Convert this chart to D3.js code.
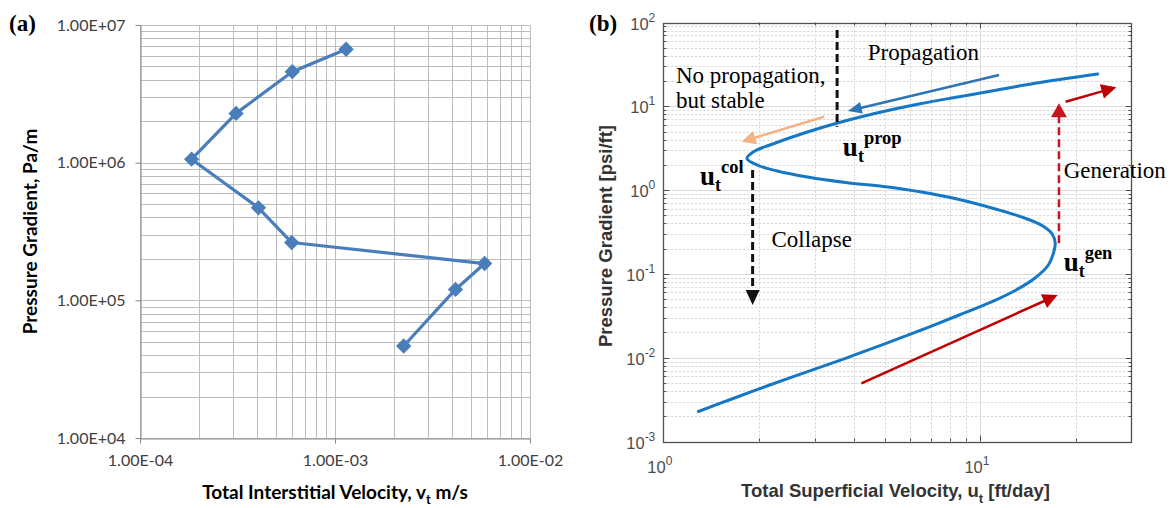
<!DOCTYPE html>
<html><head><meta charset="utf-8">
<script src="https://cdn.jsdelivr.net/npm/d3@7"></script>
<style>body{margin:0;background:#fff}svg{display:block}</style>
</head><body>
<svg id="c" width="1175" height="508"></svg>
<script>
// ---------- Panel (a) data ----------
const velocityA = [1.14e-3, 6.04e-4, 3.11e-4, 1.84e-4, 4.05e-4, 6.0e-4, 5.85e-3, 4.15e-3, 2.25e-3];
const gradientA = [6.66e6, 4.58e6, 2.28e6, 1.06e6, 4.7e5, 2.63e5, 1.85e5, 1.2e5, 4.66e4];
const xTickValsA = [1e-4, 1e-3, 1e-2];
const xTickLabelsA = ["1.00E-04", "1.00E-03", "1.00E-02"];
const yTickValsA = [1e4, 1e5, 1e6, 1e7];
const yTickLabelsA = ["1.00E+04", "1.00E+05", "1.00E+06", "1.00E+07"];

// ---------- Panel (b) data ----------
const curveU = [1.29, 1.644, 2.165, 2.85, 3.756, 4.944, 6.515, 8.577, 11.3, 12.96, 14.87, 16.38, 17.07, 17.21,
  16.84, 15.83, 14.07, 11.3, 8.577, 6.515, 4.944, 3.756, 2.85, 2.287, 1.994, 1.835,
  1.931, 2.169, 2.846, 3.737, 4.944, 6.515, 8.577, 11.3, 14.87, 23.42];
const curveG = [0.00228, 0.003216, 0.004724, 0.006808, 0.009836, 0.01445, 0.02141, 0.03232, 0.04974, 0.06425, 0.08938, 0.1277, 0.1876, 0.2338,
  0.2994, 0.3679, 0.4519, 0.5868, 0.7723, 0.949, 1.104, 1.232, 1.433, 1.69, 1.966, 2.383,
  2.888, 3.452, 4.935, 6.676, 8.67, 10.8, 13.02, 15.65, 18.81, 24.29];
const xTickValsB = [1, 10];
const xTickExpB = ["0", "1"];
const yTickValsB = [1e-3, 1e-2, 1e-1, 1, 10, 100];
const yTickExpB = ["-3", "-2", "-1", "0", "1", "2"];

// annotation arrows (data coordinates: from -> to)
const arrowsB = [
  {kind: "blackDash", u0: 3.533, g0: 81.4, u1: 3.533, g1: 5.71},
  {kind: "blackDashArrow", u0: 1.913, g0: 1.737, u1: 1.913, g1: 0.0426},
  {kind: "redDashArrow", u0: 17.69, g0: 0.232, u1: 17.69, g1: 10.86},
  {kind: "blue", u0: 11.45, g0: 23.63, u1: 3.818, g1: 8.788},
  {kind: "orange", u0: 3.216, g0: 7.514, u1: 1.766, g1: 3.781},
  {kind: "red", u0: 18.57, g0: 11.35, u1: 26.83, g1: 16.85},
  {kind: "red", u0: 4.215, g0: 0.00495, u1: 17.52, g1: 0.056}
];
const textsB = [
  {text: "Propagation", u: 4.415, g: 35.68},
  {text: "No propagation,", u: 1.096, g: 18.81},
  {text: "but stable", u: 1.096, g: 9.465},
  {text: "Generation", u: 18.3, g: 1.383},
  {text: "Collapse", u: 2.194, g: 0.2112}
];
const symbolsB = [
  {sup: "prop", u: 3.683, g: 2.55},
  {sup: "col", u: 1.305, g: 1.151},
  {sup: "gen", u: 18.3, g: 0.108}
];

const svg = d3.select("#c");

// ================= Panel (a) =================
const xA = d3.scaleLog().domain([1e-4, 1e-2]).range([140, 530]);
const yA = d3.scaleLog().domain([1e4, 1e7]).range([438, 25]);
const gA = svg.append("g");
const crisp = v => Math.round(v) + 0.5;

const gridXA = [];
for (let e = -4; e <= -3; e++) for (let k = 1; k <= 9; k++) gridXA.push(k * Math.pow(10, e));
gridXA.push(1e-2);
const gridYA = [];
for (let e = 4; e <= 6; e++) for (let k = 1; k <= 9; k++) gridYA.push(k * Math.pow(10, e));
gridYA.push(1e7);

gA.selectAll("line.gx").data(gridXA).join("line")
  .attr("x1", d => crisp(xA(d))).attr("x2", d => crisp(xA(d)))
  .attr("y1", yA(1e7)).attr("y2", yA(1e4))
  .attr("stroke", "#bcbcbc").attr("stroke-width", 1);
gA.selectAll("line.gy").data(gridYA).join("line")
  .attr("y1", d => crisp(yA(d))).attr("y2", d => crisp(yA(d)))
  .attr("x1", xA(1e-4)).attr("x2", xA(1e-2))
  .attr("stroke", "#bcbcbc").attr("stroke-width", 1);

const axA_L = d3.axisLeft(yA).tickValues(yTickValsA).tickFormat((d, i) => yTickLabelsA[i])
  .tickSize(5).tickSizeOuter(0).tickPadding(10);
const axA_B = d3.axisBottom(xA).tickValues(xTickValsA).tickFormat((d, i) => xTickLabelsA[i])
  .tickSize(5).tickSizeOuter(0).tickPadding(11);
const gAL = gA.append("g").attr("transform", `translate(${crisp(xA(1e-4))},0)`).call(axA_L);
const gAB = gA.append("g").attr("transform", `translate(0,${crisp(yA(1e4))})`).call(axA_B);
[gAL, gAB].forEach(g => {
  g.select(".domain").attr("stroke", "#868686");
  g.selectAll(".tick line").attr("stroke", "#868686");
  g.selectAll(".tick text").attr("fill", "#404040")
    .style("font-family", "Lato, 'Open Sans', sans-serif").style("font-size", "16px");
});

const ptsA = velocityA.map((v, i) => ({v, g: gradientA[i]}));
gA.append("path").datum(ptsA)
  .attr("d", d3.line().x(d => xA(d.v)).y(d => yA(d.g)))
  .attr("fill", "none").attr("stroke", "#4a7ebb").attr("stroke-width", 3.2)
  .attr("stroke-linejoin", "round");
gA.selectAll("path.mk").data(ptsA).join("path")
  .attr("d", d3.symbol().type(d3.symbolSquare).size(118))
  .attr("transform", d => `translate(${xA(d.v)},${yA(d.g)}) rotate(45)`)
  .attr("fill", "#4a7ebb");

gA.append("text").attr("transform", `translate(37,${(yA(1e7) + yA(1e4)) / 2}) rotate(-90)`)
  .attr("text-anchor", "middle").attr("fill", "#000")
  .style("font-family", "Lato, sans-serif").style("font-size", "19px").style("font-weight", "bold")
  .text("Pressure Gradient, Pa/m");
const xlA = gA.append("text").attr("x", (xA(1e-4) + xA(1e-2)) / 2).attr("y", 499)
  .attr("text-anchor", "middle").attr("fill", "#000")
  .style("font-family", "Lato, sans-serif").style("font-size", "19px").style("font-weight", "bold");
xlA.append("tspan").text("Total Interstitial Velocity, v");
xlA.append("tspan").attr("dy", 5).style("font-size", "13px").text("t");
xlA.append("tspan").attr("dy", -5).text(" m/s");

svg.append("text").attr("x", 9).attr("y", 31)
  .style("font-family", "'Liberation Serif', serif").style("font-size", "23px").style("font-weight", "bold")
  .text("(a)");

// ================= Panel (b) =================
const xB = d3.scaleLog().domain([1, 30]).range([663.3, 1131.7]);
const yB = d3.scaleLog().domain([1e-3, 1e2]).range([441.5, 22.5]);
const gB = svg.append("g");
const x0 = xB(1), x1 = xB(30), yTop = yB(1e2), yBot = yB(1e-3);

const minorXB = [2, 3, 4, 5, 6, 7, 8, 9, 20];
const majorXB = [10];
const minorYB = [], majorYB = [1e-2, 1e-1, 1, 10];
for (let e = -3; e <= 1; e++) for (let k = 2; k <= 9; k++) minorYB.push(k * Math.pow(10, e));

gB.selectAll("line.mx").data(minorXB).join("line")
  .attr("x1", d => crisp(xB(d))).attr("x2", d => crisp(xB(d))).attr("y1", yTop).attr("y2", yBot)
  .attr("stroke", "#d2d2d2").attr("stroke-width", 1).attr("stroke-dasharray", "2,2");
gB.selectAll("line.my").data(minorYB).join("line")
  .attr("y1", d => crisp(yB(d))).attr("y2", d => crisp(yB(d))).attr("x1", x0).attr("x2", x1)
  .attr("stroke", "#d2d2d2").attr("stroke-width", 1).attr("stroke-dasharray", "2,2");
gB.selectAll("line.Mx").data(majorXB).join("line")
  .attr("x1", d => crisp(xB(d))).attr("x2", d => crisp(xB(d))).attr("y1", yTop).attr("y2", yBot)
  .attr("stroke", "#dadada").attr("stroke-width", 1);
gB.selectAll("line.My").data(majorYB).join("line")
  .attr("y1", d => crisp(yB(d))).attr("y2", d => crisp(yB(d))).attr("x1", x0).attr("x2", x1)
  .attr("stroke", "#dadada").attr("stroke-width", 1);

// ticks inside on all sides
const tickCol = "#4d4d4d";
const allXT = [...majorXB.map(v => ({v, L: 6})), ...minorXB.map(v => ({v, L: 3}))];
const allYT = [...majorYB.map(v => ({v, L: 6})), ...minorYB.map(v => ({v, L: 3}))];
[[yBot, -1], [yTop, 1]].forEach(([yy, s]) => {
  gB.selectAll(null).data(allXT).join("line")
    .attr("x1", d => crisp(xB(d.v))).attr("x2", d => crisp(xB(d.v)))
    .attr("y1", yy).attr("y2", d => yy + s * d.L).attr("stroke", tickCol).attr("stroke-width", 1);
});
[[x0, 1], [x1, -1]].forEach(([xx, s]) => {
  gB.selectAll(null).data(allYT).join("line")
    .attr("y1", d => crisp(yB(d.v))).attr("y2", d => crisp(yB(d.v)))
    .attr("x1", xx).attr("x2", d => xx + s * d.L).attr("stroke", tickCol).attr("stroke-width", 1);
});
gB.append("rect").attr("x", crisp(x0)).attr("y", crisp(yTop))
  .attr("width", Math.round(x1 - x0)).attr("height", Math.round(yBot - yTop))
  .attr("fill", "none").attr("stroke", "#505050").attr("stroke-width", 1.3);

// tick labels
const tickFont = "'Liberation Sans', Arial, sans-serif";
yTickValsB.forEach((v, i) => {
  const t = gB.append("text").attr("x", x0 - 8).attr("y", yB(v) + 7).attr("text-anchor", "end")
    .attr("fill", "#4d4d4d").style("font-family", tickFont).style("font-size", "16.5px");
  t.append("tspan").text("10");
  t.append("tspan").attr("dy", -8).style("font-size", "12px").text(yTickExpB[i]);
});
xTickValsB.forEach((v, i) => {
  const t = gB.append("text").attr("x", xB(v) - 16).attr("y", 473)
    .attr("fill", "#4d4d4d").style("font-family", tickFont).style("font-size", "16.5px");
  t.append("tspan").text("10");
  t.append("tspan").attr("dy", -8).style("font-size", "12px").text(xTickExpB[i]);
});

// axis labels
gB.append("text").attr("transform", `translate(612,${(yTop + yBot) / 2 + 4}) rotate(-90)`)
  .attr("text-anchor", "middle").attr("fill", "#333")
  .style("font-family", tickFont).style("font-size", "18.5px").style("font-weight", "bold")
  .text("Pressure Gradient [psi/ft]");
const xlB = gB.append("text").attr("x", (x0 + x1) / 2 - 2).attr("y", 497).attr("text-anchor", "middle")
  .attr("fill", "#333").style("font-family", tickFont).style("font-size", "18.5px").style("font-weight", "bold");
xlB.append("tspan").text("Total Superficial Velocity, u");
xlB.append("tspan").attr("dy", 6).style("font-size", "13px").text("t");
xlB.append("tspan").attr("dy", -6).text(" [ft/day]");

// curve
const ptsB = curveU.map((u, i) => [xB(u), yB(curveG[i])]);
gB.append("path").datum(ptsB)
  .attr("d", d3.line().curve(d3.curveCatmullRom.alpha(0.5)))
  .attr("fill", "none").attr("stroke", "#1677c4").attr("stroke-width", 3)
  .attr("stroke-linecap", "round");

// arrows
const styles = {
  blackDash: {c: "#111", w: 3, dash: "8,4", head: null},
  blackDashArrow: {c: "#111", w: 3, dash: "8,4", head: [15, 7]},
  redDashArrow: {c: "#c8141e", w: 2.5, dash: "8,4", head: [14, 8]},
  blue: {c: "#2e75b6", w: 2.5, dash: null, head: [14, 6]},
  orange: {c: "#f4b183", w: 2.5, dash: null, head: [14, 7]},
  red: {c: "#c00000", w: 2.5, dash: null, head: [15, 7.5]}
};
arrowsB.forEach(a => {
  const s = styles[a.kind];
  const px0 = xB(a.u0), py0 = yB(a.g0), px1 = xB(a.u1), py1 = yB(a.g1);
  const dx = px1 - px0, dy = py1 - py0, len = Math.hypot(dx, dy), ux = dx / len, uy = dy / len;
  let ex = px1, ey = py1;
  if (s.head) { ex = px1 - ux * (s.head[0] - 1); ey = py1 - uy * (s.head[0] - 1); }
  const ln = gB.append("line").attr("x1", px0).attr("y1", py0).attr("x2", ex).attr("y2", ey)
    .attr("stroke", s.c).attr("stroke-width", s.w);
  if (s.dash) ln.attr("stroke-dasharray", s.dash);
  if (s.head) {
    const [L, W] = s.head;
    const bx = px1 - ux * L, by = py1 - uy * L;
    gB.append("polygon")
      .attr("points", [[px1, py1], [bx - uy * W, by + ux * W], [bx + uy * W, by - ux * W]].map(p => p.join(",")).join(" "))
      .attr("fill", s.c);
  }
});

// text annotations
const serif = "'Liberation Serif', 'Times New Roman', serif";
textsB.forEach(t => {
  gB.append("text").attr("x", xB(t.u)).attr("y", yB(t.g))
    .style("font-family", serif).style("font-size", "23px").attr("fill", "#000").text(t.text);
});
symbolsB.forEach(s => {
  const t = gB.append("text").attr("x", xB(s.u)).attr("y", yB(s.g))
    .style("font-family", serif).style("font-weight", "bold").attr("fill", "#000");
  t.append("tspan").style("font-size", "27px").text("u");
  t.append("tspan").attr("dy", 6).style("font-size", "18px").text("t");
  t.append("tspan").attr("dy", -18).style("font-size", "18.5px").text(s.sup);
});

svg.append("text").attr("x", 589).attr("y", 31)
  .style("font-family", serif).style("font-size", "23px").style("font-weight", "bold")
  .text("(b)");
</script>
</body></html>
